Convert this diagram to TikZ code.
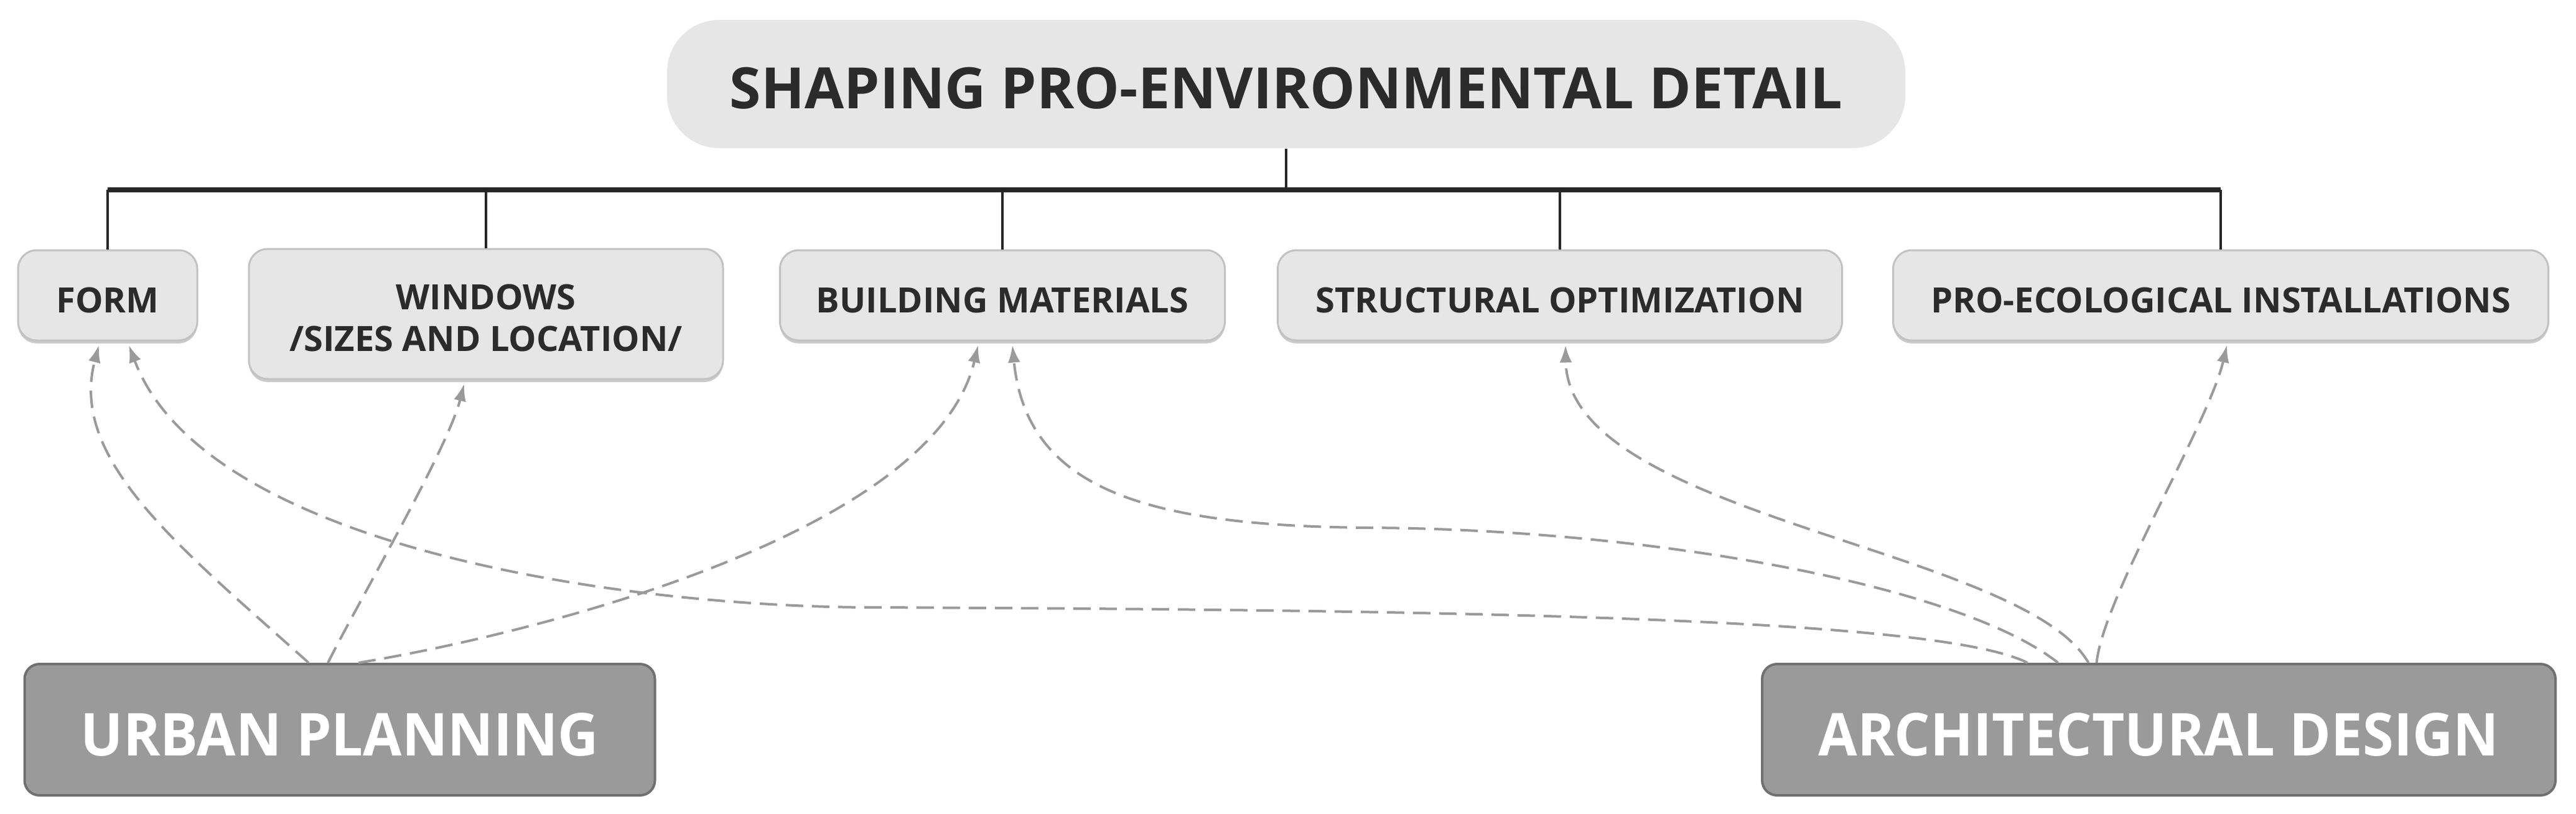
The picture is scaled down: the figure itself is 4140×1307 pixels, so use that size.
\documentclass[tikz,border=0pt]{standalone}
\usepackage{fontspec}
\setmainfont{Open Sans}
\newfontfamily\srcfont[FakeStretch=0.95]{Open Sans}
\usetikzlibrary{calc,arrows.meta,shadows}
\definecolor{boxfill}{HTML}{E6E6E6}
\definecolor{boxedge}{HTML}{C2C2C2}
\definecolor{darkfill}{HTML}{9A9A9A}
\definecolor{darkedge}{HTML}{707070}
\definecolor{dashc}{HTML}{9A9A9A}
\definecolor{txt}{HTML}{2B2B2B}
\begin{document}
\begin{tikzpicture}[x=0.25pt,y=-0.25pt,
  titlebox/.style={fill=boxfill, rounded corners=21pt, minimum width=497.5pt, minimum height=51.5pt, inner sep=0pt, text=txt, font=\fontsize{22.9pt}{26pt}\selectfont\bfseries, text height=19.5pt, text depth=0pt},
  catbox/.style={fill=boxfill, draw=boxedge, line width=0.75pt, rounded corners=7.5pt, minimum height=36.25pt, inner sep=0pt, text=txt, font=\fontsize{14pt}{16.75pt}\selectfont\bfseries, text height=13.75pt, text depth=0pt, drop shadow={shadow xshift=0pt, shadow yshift=-1.2pt, fill=black!35, opacity=0.6}},
  srcbox/.style={fill=darkfill, draw=darkedge, line width=1pt, rounded corners=6pt, minimum height=52.75pt, inner sep=0pt, text=white, font=\srcfont\fontsize{23.8pt}{28pt}\selectfont\bfseries, text height=20.75pt, text depth=0pt},
  busline/.style={draw=black!85, line width=2pt},
  dropline/.style={draw=black!85, line width=1.1pt},
  influence/.style={draw=dashc, line width=1pt, dash pattern=on 7pt off 3.5pt, -{Latex[length=7pt,width=5pt]}}
]
\useasboundingbox (0,0) rectangle (4140,1307);

\node[titlebox] (title) at (2067,135) {SHAPING PRO-ENVIRONMENTAL DETAIL};

\node[catbox, minimum width=72pt] (form) at (173,474.5) {FORM};
\node[catbox, minimum width=190.5pt, minimum height=52.25pt, text height=17.5pt, text depth=21.25pt] (win) at (781,504.5) {\begin{tabular}[t]{@{}c@{}}WINDOWS\\/SIZES AND LOCATION/\end{tabular}};
\node[catbox, minimum width=178.75pt] (bm) at (1611,474.5) {BUILDING MATERIALS};
\node[catbox, minimum width=226.75pt] (struct) at (2507,474.5) {STRUCTURAL OPTIMIZATION};
\node[catbox, minimum width=263.25pt] (pro) at (3569,474.5) {PRO-ECOLOGICAL INSTALLATIONS};

\node[srcbox, minimum width=253.25pt] (up) at (546,1172.5) {URBAN PLANNING};
\node[srcbox, minimum width=318.75pt] (ad) at (3469.5,1172.5) {ARCHITECTURAL DESIGN};

\coordinate (bus) at (0,305);
\draw[dropline] (title.south) -- (title.south |- bus);
\draw[busline] (form.north |- bus) -- (pro.north |- bus);
\foreach \n in {form,win,bm,struct,pro} \draw[dropline] (\n.north |- bus) -- (\n.north);

\draw[influence] ($(up.north)+(-50,0)$) .. controls (290,880) and (110,740) .. ($(form.south)+(-14,6)$);
\draw[influence] ($(up.north)+(-19,0)$) .. controls (580,960) and (720,720) .. ($(win.south)+(-35,6)$);
\draw[influence] ($(up.north)+(30,0)$) .. controls (850,1020) and (1500,860) .. ($(bm.south)+(-39,6)$);

\draw[influence] ($(ad.north)+(-211,0)$) .. controls (3120,995) and (2400,980) .. (1400,976) .. controls (1000,975) and (330,880) .. ($(form.south)+(34,6)$);
\draw[influence] ($(ad.north)+(-162,0)$) .. controls (3150,940) and (2650,850) .. (2200,848) .. controls (1850,845) and (1650,790) .. ($(bm.south)+(16,6)$);
\draw[influence] ($(ad.north)+(-113,0)$) .. controls (3250,880) and (2520,830) .. ($(struct.south)+(9,6)$);
\draw[influence] ($(ad.north)+(-100,0)$) .. controls (3380,960) and (3550,680) .. ($(pro.south)+(10,6)$);
\end{tikzpicture}
\end{document}
